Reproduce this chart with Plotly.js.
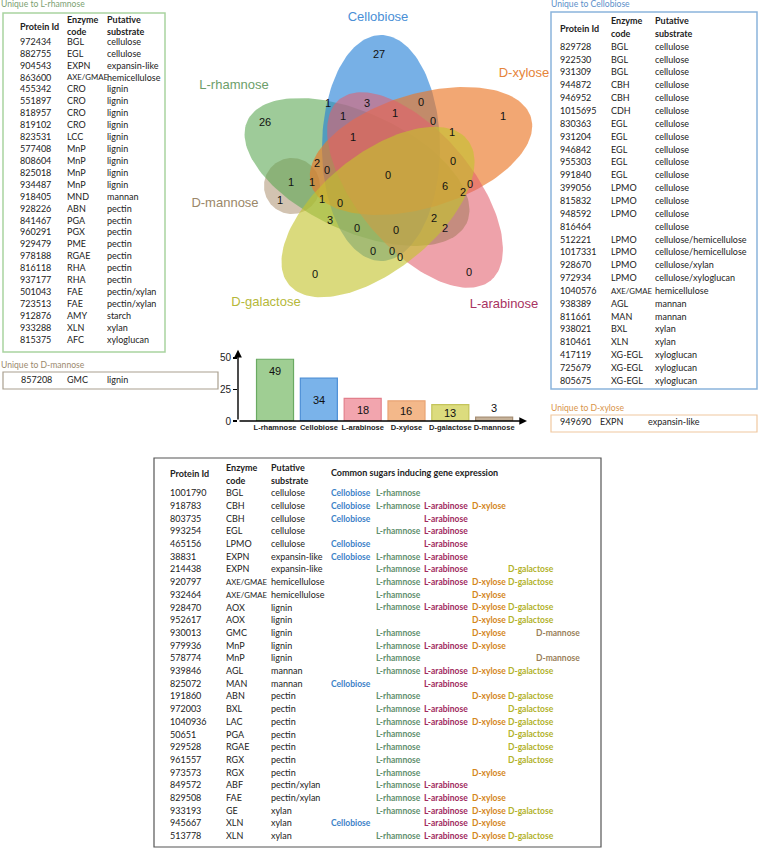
<!DOCTYPE html>
<html><head><meta charset="utf-8">
<script src="https://cdn.plot.ly/plotly-3.0.1.min.js"></script>
<style>html,body{margin:0;padding:0;background:#fff}</style>
</head><body><div id="chart" style="width:760px;height:849px"></div>
<script>
// ---------------- DATA ----------------
const sugars = ["L-rhamnose","Cellobiose","L-arabinose","D-xylose","D-galactose","D-mannose"];
const totals = [49,34,18,16,13,3];

const rhaIds = ["972434","882755","904543","863600","455342","551897","818957","819102","823531","577408","808604","825018","934487","918405","928226","841467","960291","929479","978188","816118","937177","501043","723513","912876","933288","815375"];
const rhaCodes = ["BGL","EGL","EXPN","AXE/GMAE","CRO","CRO","CRO","CRO","LCC","MnP","MnP","MnP","MnP","MND","ABN","PGA","PGX","PME","RGAE","RHA","RHA","FAE","FAE","AMY","XLN","AFC"];
const rhaSubs = ["cellulose","cellulose","expansin-like","hemicellulose","lignin","lignin","lignin","lignin","lignin","lignin","lignin","lignin","lignin","mannan","pectin","pectin","pectin","pectin","pectin","pectin","pectin","pectin/xylan","pectin/xylan","starch","xylan","xyloglucan"];

const cbIds = ["829728","922530","931309","944872","946952","1015695","830363","931204","946842","955303","991840","399056","815832","948592","816464","512221","1017331","928670","972934","1040576","938389","811661","938021","810461","417119","725679","805675"];
const cbCodes = ["BGL","BGL","BGL","CBH","CBH","CDH","EGL","EGL","EGL","EGL","EGL","LPMO","LPMO","LPMO","","LPMO","LPMO","LPMO","LPMO","AXE/GMAE","AGL","MAN","BXL","XLN","XG-EGL","XG-EGL","XG-EGL"];
const cbSubs = ["cellulose","cellulose","cellulose","cellulose","cellulose","cellulose","cellulose","cellulose","cellulose","cellulose","cellulose","cellulose","cellulose","cellulose","cellulose","cellulose/hemicellulose","cellulose/hemicellulose","cellulose/xylan","cellulose/xyloglucan","hemicellulose","mannan","mannan","xylan","xylan","xyloglucan","xyloglucan","xyloglucan"];

const manIds = ["857208"], manCodes = ["GMC"], manSubs = ["lignin"];
const xylIds = ["949690"], xylCodes = ["EXPN"], xylSubs = ["expansin-like"];

const comIds = ["1001790","918783","803735","993254","465156","38831","214438","920797","932464","928470","952617","930013","979936","578774","939846","825072","191860","972003","1040936","50651","929528","961557","973573","849572","829508","933193","945667","513778"];
const comCodes = ["BGL","CBH","CBH","EGL","LPMO","EXPN","EXPN","AXE/GMAE","AXE/GMAE","AOX","AOX","GMC","MnP","MnP","AGL","MAN","ABN","BXL","LAC","PGA","RGAE","RGX","RGX","ABF","FAE","GE","XLN","XLN"];
const comSubs = ["cellulose","cellulose","cellulose","cellulose","cellulose","expansin-like","expansin-like","hemicellulose","hemicellulose","lignin","lignin","lignin","lignin","lignin","mannan","mannan","pectin","pectin","pectin","pectin","pectin","pectin","pectin","pectin/xylan","pectin/xylan","xylan","xylan","xylan"];
const comSets = [
 ["Cellobiose","L-rhamnose"],
 ["Cellobiose","L-rhamnose","L-arabinose","D-xylose"],
 ["Cellobiose","L-arabinose"],
 ["L-rhamnose","L-arabinose"],
 ["Cellobiose","L-arabinose"],
 ["Cellobiose","L-rhamnose","L-arabinose"],
 ["L-rhamnose","L-arabinose","D-galactose"],
 ["L-rhamnose","L-arabinose","D-xylose","D-galactose"],
 ["L-rhamnose","D-xylose"],
 ["L-rhamnose","L-arabinose","D-xylose","D-galactose"],
 ["D-xylose","D-galactose"],
 ["L-rhamnose","D-xylose","D-mannose"],
 ["L-rhamnose","L-arabinose","D-xylose"],
 ["L-rhamnose","D-mannose"],
 ["L-rhamnose","L-arabinose","D-xylose","D-galactose"],
 ["Cellobiose","L-arabinose"],
 ["L-rhamnose","D-xylose","D-galactose"],
 ["L-rhamnose","L-arabinose","D-galactose"],
 ["L-rhamnose","L-arabinose","D-xylose","D-galactose"],
 ["L-rhamnose","D-galactose"],
 ["L-rhamnose","D-galactose"],
 ["L-rhamnose","D-galactose"],
 ["L-rhamnose","D-xylose"],
 ["L-rhamnose","L-arabinose"],
 ["L-rhamnose","L-arabinose","D-xylose"],
 ["L-rhamnose","L-arabinose","D-xylose","D-galactose"],
 ["Cellobiose","L-arabinose","D-xylose"],
 ["L-rhamnose","L-arabinose","D-xylose","D-galactose"]
];

const vennCounts = [27,1,0,0,26,1,1,1,2,0,1,3,0,1,1,0,1,1,0,0,6,2,0,1,0,3,0,0,2,2,0,0,0];

// ---------------- LAYOUT / STYLE ----------------
const vennPos = [[379,55],[503,117],[469,273],[315,275],[265,123],[280,201],[291,183],[312,183],[317,164],[327,171],[328,104],[367,104],[421,103],[343,117],[395,114],[433,122],[452,133],[353,138],[388,176],[453,162],[445,187],[463,193],[470,185],[322,200],[340,204],[330,221],[357,229],[396,231],[434,219],[445,229],[373,252],[392,252],[400,258]];

const ellipses = [
 {cx:292, cy:186, a:28, b:28, ang:0, fill:"rgba(165,135,100,0.5)"},
 {cx:357, cy:172, a:121, b:59, ang:25, fill:"rgba(88,166,80,0.58)"},
 {cx:381, cy:148, a:113, b:59, ang:90, fill:"rgba(35,128,215,0.62)"},
 {cx:421, cy:151, a:115, b:57, ang:-17, fill:"rgba(235,120,40,0.65)"},
 {cx:415, cy:190, a:118, b:58, ang:50, fill:"rgba(226,95,108,0.58)"},
 {cx:378, cy:212, a:115, b:58, ang:141, fill:"rgba(196,196,45,0.62)"}
];
const vennLabels = [
 {t:"Cellobiose", x:378, y:18, c:"#4a8fd6"},
 {t:"D-xylose", x:524, y:74, c:"#e5843a"},
 {t:"L-rhamnose", x:234, y:86, c:"#6c9e6a"},
 {t:"D-mannose", x:225, y:204, c:"#9b8769"},
 {t:"D-galactose", x:266, y:303, c:"#b5b83a"},
 {t:"L-arabinose", x:504, y:305, c:"#a83361"}
];
const barFill = ["#9fce93","#7ab3ea","#f2a5ae","#f3b88a","#dcdc7e","#c6b299"];
const barLine = ["#6aaa62","#4d8fd6","#e27f8c","#e9a474","#c4c45a","#a58d73"];
const sugarColor = {"Cellobiose":"#3d82c8","L-rhamnose":"#5f8f6e","L-arabinose":"#a02a5e","D-xylose":"#d4861a","D-galactose":"#b2b22a","D-mannose":"#9a7f5a"};
const sugarColX = {"Cellobiose":331,"L-rhamnose":376,"L-arabinose":424,"D-xylose":472,"D-galactose":508,"D-mannose":536};

const TF = "Lato, 'Open Sans', sans-serif";
const TS = 9;
const traces = [];

function ellipsePts(e){
  const xs=[], ys=[]; const t=e.ang*Math.PI/180;
  for(let k=0;k<=160;k++){
    const th=2*Math.PI*k/160;
    xs.push(e.cx + e.a*Math.cos(th)*Math.cos(t) - e.b*Math.sin(th)*Math.sin(t));
    ys.push(e.cy + e.a*Math.cos(th)*Math.sin(t) + e.b*Math.sin(th)*Math.cos(t));
  }
  return {xs, ys};
}
ellipses.forEach(e=>{
  const p=ellipsePts(e);
  traces.push({type:"scatter", mode:"lines", x:p.xs, y:p.ys, xaxis:"x2", yaxis:"y2",
    fill:"toself", fillcolor:e.fill, line:{width:0, color:"rgba(0,0,0,0)"}, hoverinfo:"skip", showlegend:false});
});

function textTrace(xs, ys, texts, opts){
  opts = opts||{};
  return {type:"scatter", mode:"text", x:xs, y:ys, text:texts, xaxis:"x2", yaxis:"y2",
    textposition: opts.pos||"middle right", cliponaxis:false, hoverinfo:"skip", showlegend:false,
    textfont:{family: opts.family||TF, size: opts.size||TS, color: opts.color||"#222"}};
}
const B = s => "<b>"+s+"</b>";
const codeSize = c => c.length > 6 ? 7.8 : TS;

// Venn counts and labels
traces.push(textTrace(vennPos.map(p=>p[0]), vennPos.map(p=>p[1]), vennCounts.map(String),
  {pos:"middle center", family:"Arial, 'Liberation Sans', sans-serif", size:11, color:"#111"}));
vennLabels.forEach(l=>traces.push(textTrace([l.x],[l.y],[l.t],
  {pos:"middle center", family:"Arial, 'Liberation Sans', sans-serif", size:13, color:l.c})));

function table(ids, codes, subs, xs, y0, dy){
  const ys = ids.map((_,i)=>y0+i*dy);
  traces.push(textTrace(ids.map(()=>xs[0]), ys, ids));
  traces.push(textTrace(codes.map(()=>xs[1]), ys, codes, {size: codes.map(codeSize)}));
  traces.push(textTrace(subs.map(()=>xs[2]), ys, subs));
}
function headers(xs, yMid, yTop, yBot){
  traces.push(textTrace([xs[0]],[yMid],[B("Protein Id")]));
  traces.push(textTrace([xs[1],xs[1],xs[2],xs[2]],[yTop,yBot,yTop,yBot],[B("Enzyme"),B("code"),B("Putative"),B("substrate")]));
}

// Left table (L-rhamnose)
traces.push(textTrace([1],[5],["Unique to L-rhamnose"],{color:"#7c9f72", size:8.6}));
headers([20,67,107], 28, 21, 33);
table(rhaIds, rhaCodes, rhaSubs, [20,67,107], 42.5, 11.92);
// D-mannose
traces.push(textTrace([1],[366],["Unique to D-mannose"],{color:"#9c8a6e", size:8.6}));
table(manIds, manCodes, manSubs, [21,67,107], 380.5, 12);
// Right table (Cellobiose)
traces.push(textTrace([551],[5],["Unique to Cellobiose"],{color:"#5b8fc9", size:8.6}));
headers([560,611,655], 30, 22, 35);
table(cbIds, cbCodes, cbSubs, [560,611,655], 47.5, 12.85);
// D-xylose
traces.push(textTrace([551],[409],["Unique to D-xylose"],{color:"#d9954a", size:8.6}));
table(xylIds, xylCodes, xylSubs, [560,600,648], 423, 12);

// Bottom table
headers([170,226,271], 475, 469, 482);
traces.push(textTrace([331],[474],[B("Common sugars inducing gene expression")]));
table(comIds, comCodes, comSubs, [170,226,271], 494, 12.7);
Object.keys(sugarColX).forEach(s=>{
  const xs=[], ys=[], tx=[];
  comSets.forEach((set,i)=>{ if(set.indexOf(s)>=0){ xs.push(sugarColX[s]); ys.push(494+i*12.7); tx.push(B(s)); } });
  traces.push(textTrace(xs, ys, tx, {color:sugarColor[s], size:8.5}));
});

// Bar chart
traces.push({type:"bar", x:sugars, y:totals, xaxis:"x", yaxis:"y", width:0.845,
  marker:{color:barFill, line:{color:barLine, width:1.2}}, hoverinfo:"skip", showlegend:false});

const YTOP = 56.5, X0 = -0.845, X1 = 5.75;
const annotations = [];
totals.forEach((v,i)=>{
  const big = v >= 40, small = v < 8;
  annotations.push({xref:"x", yref:"y", x:sugars[i], y: small ? v : (big ? v - 9.5 : v/2), text:String(v), showarrow:false,
    yanchor: small ? "bottom" : "middle", yshift: small ? 1 : 0,
    font:{family:"Arial, 'Liberation Sans', sans-serif", size:11, color:"#111"}});
});
annotations.push({xref:"x", yref:"y", axref:"x", ayref:"y", x:X1, y:0, ax:X0, ay:0, text:"",
  showarrow:true, arrowhead:2, arrowsize:1.1, arrowwidth:1.4, arrowcolor:"#000"});
annotations.push({xref:"x", yref:"y", axref:"x", ayref:"y", x:X0, y:YTOP, ax:X0, ay:0, text:"",
  showarrow:true, arrowhead:2, arrowsize:1.1, arrowwidth:1.4, arrowcolor:"#000"});

const shapes = [
  {type:"rect", xref:"x2", yref:"y2", x0:3, x1:165, y0:13, y1:352, line:{color:"#a9d3a0", width:1.5}},
  {type:"rect", xref:"x2", yref:"y2", x0:3, x1:218, y0:372, y1:389, line:{color:"#aaa08f", width:1.2}},
  {type:"rect", xref:"x2", yref:"y2", x0:551, x1:757, y0:12, y1:389, line:{color:"#8ab4dc", width:1.5}},
  {type:"rect", xref:"x2", yref:"y2", x0:551, x1:757, y0:415, y1:432, line:{color:"#f0c8a0", width:1.2}},
  {type:"rect", xref:"x2", yref:"y2", x0:154, x1:601, y0:458, y1:847, line:{color:"#555", width:1.2}}
];

const layout = {
  width:760, height:849, margin:{l:0,r:0,t:0,b:0},
  paper_bgcolor:"#fff", plot_bgcolor:"rgba(0,0,0,0)", showlegend:false,
  xaxis:{domain:[238/760, 527/760], range:[X0,X1], type:"category", showgrid:false, zeroline:false, showline:false,
    ticks:"", tickvals:sugars, ticktext:sugars.map(B), tickfont:{family:"Arial, 'Liberation Sans', sans-serif", size:7.5, color:"#222"}, fixedrange:true},
  yaxis:{domain:[(849-421)/849, (849-349.8)/849], range:[0,YTOP], showgrid:false, zeroline:false, showline:false,
    tickvals:[0,25,50], ticks:"outside", ticklen:4, tickcolor:"#000", tickwidth:1.2,
    tickfont:{family:"Arial, 'Liberation Sans', sans-serif", size:10, color:"#222"}, fixedrange:true},
  xaxis2:{domain:[0,1], range:[0,760], visible:false, fixedrange:true, anchor:"y2"},
  yaxis2:{domain:[0,1], range:[849,0], visible:false, fixedrange:true, anchor:"x2"},
  annotations, shapes
};
Plotly.newPlot("chart", traces, layout, {staticPlot:true, displayModeBar:false});
</script></body></html>
